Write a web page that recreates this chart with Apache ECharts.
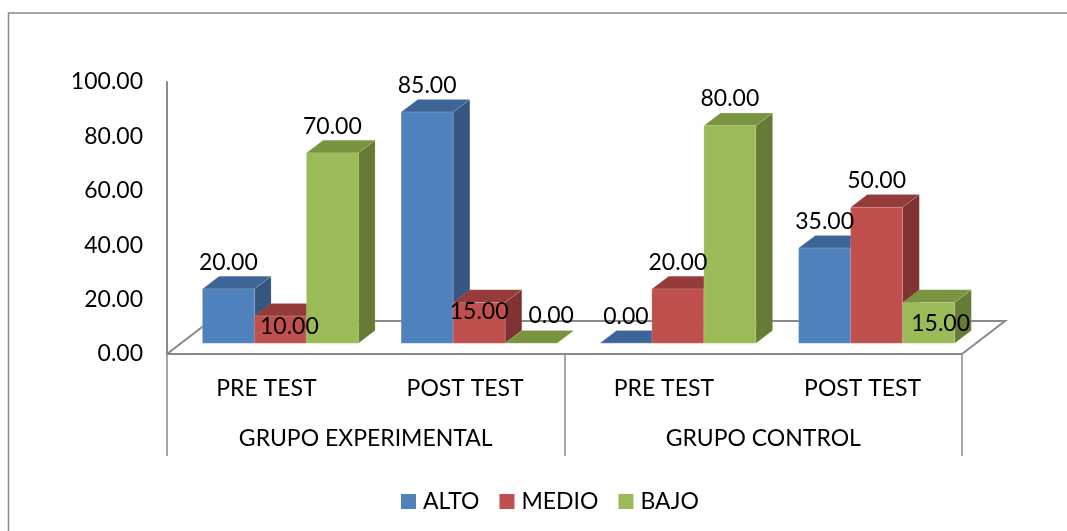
<!DOCTYPE html>
<html>
<head>
<meta charset="utf-8">
<script src="https://cdn.jsdelivr.net/npm/echarts@6/dist/echarts.min.js"></script>
<style>
html,body{margin:0;padding:0;background:#fff;}
#chart{width:1067px;height:531px;}
</style>
</head>
<body>
<div id="chart"></div>
<script>
// ---- data ----
const categories = ['PRE TEST', 'POST TEST', 'PRE TEST', 'POST TEST'];
const groups = ['GRUPO EXPERIMENTAL', 'GRUPO CONTROL'];
const seriesNames = ['ALTO', 'MEDIO', 'BAJO'];
const alto = [20, 85, 0, 35];
const medio = [10, 15, 20, 50];
const bajo = [70, 0, 80, 15];
const yMin = 0, yMax = 100, yStep = 20;

// ---- styling ----
const FONT = 'Lato';
const FS = 23;
const GRAY = '#8a8a8a';
const faces = [
  { front: '#4F81BD', top: '#3E6598', side: '#34567F' },
  { front: '#C0504D', top: '#953B39', side: '#7F3231' },
  { front: '#9BBB59', top: '#78943F', side: '#667C36' }
];
const BAR_FRAC = 0.2616;     // bar width as share of category band
const SHIFT_X = 14, SHIFT_Y = 10.7;   // bars sit a bit behind the front plane
const DEPTH_X = 16.7, DEPTH_Y = 12.7; // bar depth
const FLOOR_X = 43, FLOOR_Y = 33;     // floor depth
// label nudges (series-category) to mimic the original label placement
const nudge = { '1-0': [9, 37], '1-1': [0, 36], '2-1': [20, -1], '2-3': [12, 48] };

const values = [alto, medio, bajo];

function barGeom(api, s, i, v) {
  const top = api.coord([i, v]);
  const base = api.coord([i, 0]);
  const band = api.size([1, 0])[0];
  const bw = band * BAR_FRAC;
  const x0 = top[0] - 1.5 * bw + s * bw + SHIFT_X;
  const x1 = x0 + bw;
  const yT = top[1] - SHIFT_Y;
  const yB = base[1] - SHIFT_Y;
  return { x0, x1, yT, yB, bw };
}

function makeBarRender(s) {
  return function (params, api) {
    const i = api.value(0), v = api.value(1);
    const g = barGeom(api, s, i, v);
    const f = faces[s];
    const dx = DEPTH_X, dy = DEPTH_Y;
    return {
      type: 'group',
      children: [
        { type: 'polygon', shape: { points: [[g.x1, g.yT], [g.x1 + dx, g.yT - dy], [g.x1 + dx, g.yB - dy], [g.x1, g.yB]] },
          style: { fill: f.side, stroke: 'rgba(255,255,255,0.15)', lineWidth: 0.6 } },
        { type: 'polygon', shape: { points: [[g.x0, g.yT], [g.x1, g.yT], [g.x1 + dx, g.yT - dy], [g.x0 + dx, g.yT - dy]] },
          style: { fill: f.top, stroke: 'rgba(255,255,255,0.2)', lineWidth: 0.6 } },
        { type: 'rect', shape: { x: g.x0, y: g.yT, width: g.bw, height: g.yB - g.yT },
          style: { fill: f.front, stroke: 'rgba(255,255,255,0.25)', lineWidth: 0.6 } }
      ]
    };
  };
}

const barSeries = seriesNames.map((name, s) => ({
  name: name,
  type: 'custom',
  xAxisIndex: 0,
  yAxisIndex: 0,
  itemStyle: { color: faces[s].front },
  renderItem: makeBarRender(s),
  data: values[s].map((v, i) => [i, v]),
  z: 3
}));

const floorSeries = {
  name: 'floor',
  type: 'custom',
  silent: true,
  xAxisIndex: 0,
  yAxisIndex: 0,
  renderItem: function (params, api) {
    const band = api.size([1, 0])[0];
    const a = api.coord([0, 0]);
    const b = api.coord([categories.length - 1, 0]);
    const L = a[0] - band / 2, R = b[0] + band / 2, y = a[1];
    const st = { stroke: GRAY, lineWidth: 2, fill: null };
    return {
      type: 'group',
      children: [
        { type: 'polyline', shape: { points: [[L, y], [L + FLOOR_X, y - FLOOR_Y], [R + FLOOR_X, y - FLOOR_Y], [R, y]] }, style: st }
      ]
    };
  },
  data: [[0, 0]],
  z: 2
};

const labelData = [];
values.forEach((arr, s) => arr.forEach((v, i) => labelData.push([i, v, s])));
const labelSeries = {
  name: 'labels',
  type: 'custom',
  silent: true,
  xAxisIndex: 0,
  yAxisIndex: 0,
  renderItem: function (params, api) {
    const i = api.value(0), v = api.value(1), s = api.value(2);
    const g = barGeom(api, s, i, v);
    const n = nudge[s + '-' + i] || [0, 0];
    return {
      type: 'text',
      style: {
        text: v.toFixed(2),
        x: (g.x0 + g.x1) / 2 + n[0],
        y: g.yT - DEPTH_Y - 14 + n[1],
        align: 'center',
        verticalAlign: 'middle',
        fill: '#000',
        font: FS + 'px ' + FONT
      }
    };
  },
  data: labelData,
  z: 10
};

const chart = echarts.init(document.getElementById('chart'));
chart.setOption({
  animation: false,
  backgroundColor: '#fff',
  textStyle: { fontFamily: FONT },
  graphic: [{
    type: 'rect', silent: true, z: -10,
    shape: { x: 8.5, y: 13, width: 1075, height: 540 },
    style: { fill: 'none', stroke: GRAY, lineWidth: 1.5 }
  }],
  grid: { left: 167, top: 82, width: 795, height: 272 },
  legend: {
    data: seriesNames,
    left: 396,
    top: 485,
    icon: 'rect',
    itemWidth: 15,
    itemHeight: 15,
    itemGap: 20,
    textStyle: { fontFamily: FONT, fontSize: FS, color: '#000', padding: [0, 0, 0, 2] }
  },
  xAxis: [{
    type: 'category',
    data: categories,
    position: 'bottom',
    axisLine: { show: true, lineStyle: { color: GRAY, width: 2 } },
    axisTick: { show: false },
    axisLabel: { color: '#000', fontFamily: FONT, fontSize: FS, margin: 23, interval: 0 },
    splitLine: { show: false }
  }, {
    type: 'category',
    data: groups,
    position: 'bottom',
    gridIndex: 0,
    axisLine: { show: false },
    axisTick: { show: true, length: 102, lineStyle: { color: GRAY, width: 1.5 }, interval: 0 },
    axisLabel: { color: '#000', fontFamily: FONT, fontSize: FS, margin: 73, interval: 0 },
    splitLine: { show: false }
  }],
  yAxis: {
    type: 'value',
    min: yMin,
    max: yMax,
    interval: yStep,
    axisLine: { show: true, lineStyle: { color: GRAY, width: 2 } },
    axisTick: { show: false },
    splitLine: { show: false },
    axisLabel: { color: '#000', fontFamily: FONT, fontSize: FS, margin: 24,
      padding: [4, 0, 0, 0],
      formatter: v => v.toFixed(2) }
  },
  series: [floorSeries].concat(barSeries, [labelSeries])
});
</script>
</body>
</html>
